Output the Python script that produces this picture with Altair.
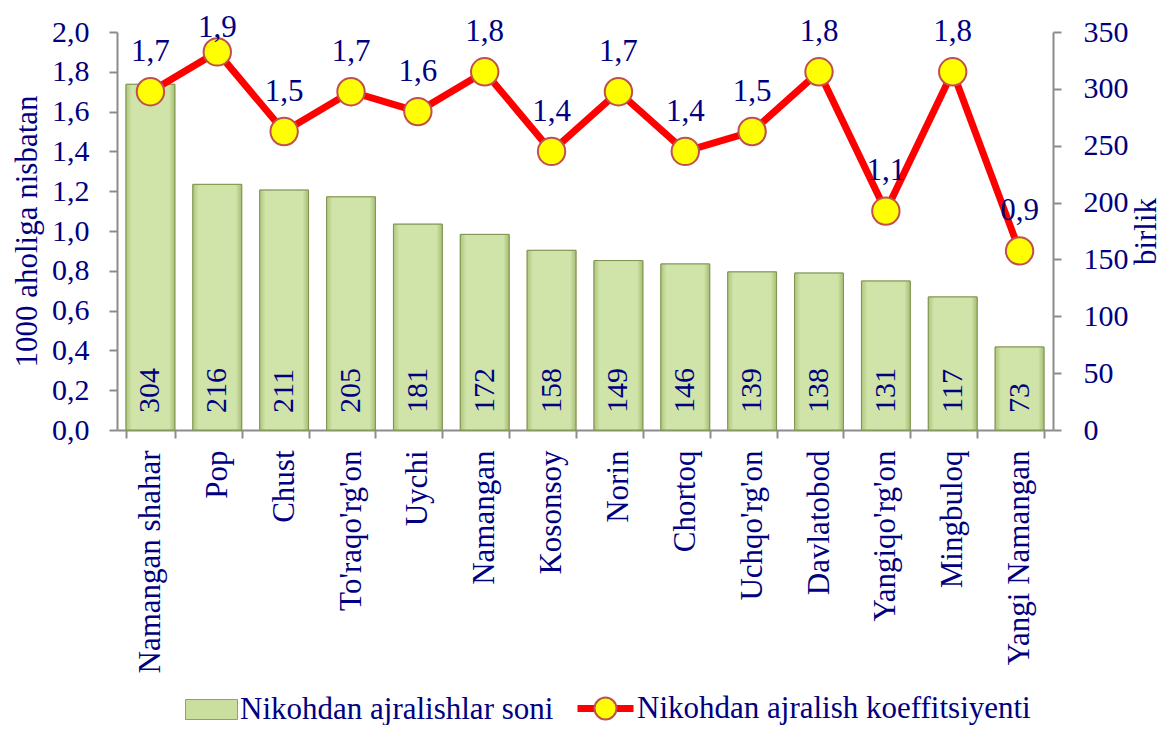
import altair as alt
import pandas as pd

categories = ["Namangan shahar", "Pop", "Chust", "To'raqo'rg'on", "Uychi", "Namangan",
              "Kosonsoy", "Norin", "Chortoq", "Uchqo'rg'on", "Davlatobod",
              "Yangiqo'rg'on", "Mingbuloq", "Yangi Namangan"]
counts = [304, 216, 211, 205, 181, 172, 158, 149, 146, 139, 138, 131, 117, 73]
coefficients = [1.7, 1.9, 1.5, 1.7, 1.6, 1.8, 1.4, 1.7, 1.4, 1.5, 1.8, 1.1, 1.8, 0.9]
bar_series = "Nikohdan ajralishlar soni"
line_series = "Nikohdan ajralish koeffitsiyenti"
marker_series = "marker"
left_ticks = [0, 0.2, 0.4, 0.6, 0.8, 1.0, 1.2, 1.4, 1.6, 1.8, 2.0]
right_ticks = [0, 50, 100, 150, 200, 250, 300, 350]

df = pd.DataFrame({"tuman": categories, "soni": counts, "koef": coefficients})
df["s1"] = bar_series
df["s2"] = line_series
df["s3"] = marker_series

FONT = "Liberation Serif"
NAVY = "#000080"
GRAY = "#8C8C8C"

x_enc = alt.X("tuman:N", sort=categories,
              scale=alt.Scale(paddingInner=0.27, paddingOuter=0.135),
              axis=alt.Axis(title=None, labelAngle=270, labelAlign="right",
                            labelBaseline="middle", tickBand="extent", tickSize=8,
                            labelPadding=12, labelFontSize=31, labelLimit=400))

right_scale = alt.Scale(domain=[0, 350], nice=False, zero=True)
right_axis = alt.Axis(orient="right", values=right_ticks, title="birlik", titleAngle=270,
                      tickSize=8, labelPadding=22, titlePadding=34, grid=False)
left_scale = alt.Scale(domain=[0, 2], nice=False, zero=True)
left_axis = alt.Axis(orient="left", values=left_ticks,
                     labelExpr="replace(format(datum.value, '.1f'), '.', ',')",
                     title="1000 aholiga nisbatan", tickSize=8, labelPadding=20,
                     titlePadding=8, grid=False)

base = alt.Chart(df)

bars = base.mark_bar(stroke="#8FA55E", strokeWidth=1).encode(
    x=x_enc,
    y=alt.Y("soni:Q", scale=right_scale, axis=right_axis),
    fill=alt.Fill("s1:N", scale=alt.Scale(domain=[bar_series], range=["#CADF9E"]),
                  legend=alt.Legend(title=None, orient="none", legendX=74, legendY=657,
                                    symbolType="M-1.3,-0.5H1.3V0.5H-1.3Z", symbolSize=1600,
                                    symbolStrokeColor="#8FA55E", symbolStrokeWidth=1,
                                    labelOffset=8, padding=0)),
)

overlay = base.mark_bar(
    fill=alt.Gradient(gradient="linear", x1=0, x2=1, y1=0, y2=0,
                      stops=[alt.GradientStop(offset=0, color="#AFC67D"),
                             alt.GradientStop(offset=0.12, color="#D0E3A9"),
                             alt.GradientStop(offset=0.88, color="#D0E3A9"),
                             alt.GradientStop(offset=1, color="#A6BD74")]),
    stroke="#7F9550", strokeWidth=1,
).encode(x=x_enc, y=alt.Y("soni:Q", scale=right_scale, axis=right_axis))

bar_labels = base.transform_calculate(zero="0").mark_text(
    angle=270, align="left", baseline="middle", dx=17, font=FONT, fontSize=30, color=NAVY
).encode(x=x_enc, y=alt.Y("zero:Q", scale=right_scale, axis=right_axis), text="soni:Q")

right_group = alt.layer(bars, overlay, bar_labels)

line = base.mark_line(strokeWidth=7).encode(
    x=x_enc,
    y=alt.Y("koef:Q", scale=left_scale, axis=left_axis),
    stroke=alt.Stroke("s2:N", scale=alt.Scale(domain=[line_series], range=["#FF0000"]),
                      legend=alt.Legend(title=None, orient="none", legendX=457, legendY=645,
                                        symbolType="stroke", symbolStrokeWidth=7,
                                        symbolSize=3136, labelOffset=0, padding=0)),
)

points = base.mark_point(filled=True, size=750, stroke="#C0504D", strokeWidth=2, opacity=1).encode(
    x=x_enc,
    y=alt.Y("koef:Q", scale=left_scale, axis=left_axis),
    color=alt.Color("s3:N", scale=alt.Scale(domain=[marker_series], range=["#FFFF00"]),
                    legend=alt.Legend(title=None, orient="none", legendX=473, legendY=661,
                                      symbolType="circle", symbolSize=484,
                                      symbolStrokeColor="#C0504D", symbolStrokeWidth=2,
                                      symbolOpacity=1, labelExpr="''", padding=0)),
)

line_labels = base.transform_calculate(
    ly="min(datum.koef + 0.2, 2.02)",
    lbl="replace(format(datum.koef, '.1f'), '.', ',')",
).mark_text(baseline="middle", font=FONT, fontSize=31, color=NAVY).encode(
    x=x_enc, y=alt.Y("ly:Q", scale=left_scale, axis=left_axis), text="lbl:N")

left_group = alt.layer(line, points, line_labels)

chart = alt.layer(right_group, left_group).resolve_scale(y="independent").properties(
    width=936, height=398,
    autosize=alt.AutoSizeParams(type="none"),
    padding={"left": 109, "top": 24, "right": 110, "bottom": 295},
).configure_view(stroke=None).configure_axis(
    labelFont=FONT, titleFont=FONT, labelColor=NAVY, titleColor=NAVY,
    labelFontSize=30, titleFontSize=31, titleFontWeight="normal",
    domainColor=GRAY, tickColor=GRAY, domainWidth=2, tickWidth=2,
).configure_legend(labelFont=FONT, labelFontSize=31, labelColor=NAVY, labelLimit=600)

chart.save("out.html", embed_options={"renderer": "svg", "actions": False})
